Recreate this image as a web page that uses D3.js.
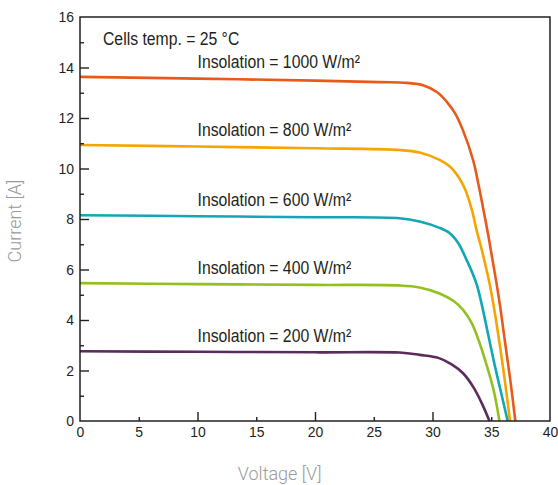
<!DOCTYPE html>
<html>
<head>
<meta charset="utf-8">
<script src="https://cdn.jsdelivr.net/npm/d3@7"></script>
<style>
  html, body { margin: 0; padding: 0; background: #fff; }
  svg { display: block; }
</style>
</head>
<body>
<svg id="chart" width="558" height="485"></svg>
<script>
// ---- data ----
const insolations = [1000, 800, 600, 400, 200];
const seriesColors = ["#e85a1b", "#f6a400", "#12a7b5", "#93c01f", "#5a2b5b"];

const v1000 = [0, 10, 20, 25.5, 27.8, 29.2, 30.4, 31.2, 31.9, 32.6, 33.45, 33.9, 34.3, 34.75, 35.1, 35.45, 35.8, 36.15, 36.6, 37.05];
const i1000 = [13.63, 13.56, 13.48, 13.42, 13.39, 13.3, 13.02, 12.65, 12.2, 11.5, 10.34, 9.4, 8.45, 7.35, 6.4, 5.45, 4.4, 3.2, 1.7, 0];

const v800 = [0, 10, 20, 27.2, 28.9, 30.6, 31.5, 32.2, 32.8, 33.35, 33.75, 34.2, 34.6, 34.9, 35.3, 35.75, 36.15, 36.6];
const i800 = [10.93, 10.87, 10.8, 10.73, 10.63, 10.34, 10.07, 9.67, 9.15, 8.36, 7.56, 6.77, 5.98, 5.35, 4.3, 2.94, 1.62, 0];

const v600 = [0, 10, 20, 27.2, 28.9, 30.6, 31.5, 32.2, 32.9, 33.45, 33.8, 34.2, 34.75, 35.3, 35.9, 36.4];
const i600 = [8.15, 8.11, 8.07, 8.03, 7.9, 7.65, 7.43, 7.04, 6.38, 5.8, 5.35, 4.6, 3.4, 2.2, 1.0, 0];

const v400 = [0, 10, 20, 27.2, 28.9, 30.6, 31.8, 32.6, 33.35, 34.0, 34.55, 35.2, 35.7];
const i400 = [5.46, 5.42, 5.39, 5.37, 5.29, 5.05, 4.75, 4.4, 3.87, 3.1, 2.3, 1.23, 0];

const v200 = [0, 10, 20, 27.2, 28.9, 30.5, 31.6, 32.6, 33.45, 34.2, 34.85];
const i200 = [2.76, 2.74, 2.72, 2.71, 2.62, 2.5, 2.25, 1.89, 1.36, 0.7, 0];

const voltages = [v1000, v800, v600, v400, v200];
const currents = [i1000, i800, i600, i400, i200];

const xTickLabels = [0, 5, 10, 15, 20, 25, 30, 35, 40];
const yTickLabels = [0, 2, 4, 6, 8, 10, 12, 14, 16];
const xMinorTicks = [5, 15, 25, 35];
const xMajorTicks = [10, 20, 30];
const yMinorTicks = [1, 3, 5, 7, 9, 11, 13, 15];
const yMajorTicks = [2, 4, 6, 8, 10, 12, 14];

const annotation = "Cells temp. = 25 °C";
const xTitle = "Voltage [V]";
const yTitle = "Current [A]";

// ---- layout ----
const margin = { left: 80, top: 17, right: 8, bottom: 64 };
const W = 558, H = 485;
const iw = W - margin.left - margin.right;   // 470
const ih = H - margin.top - margin.bottom;   // 404
const FONT = "'Liberation Sans', Arial, Helvetica, sans-serif";
const INK = "#231f20";

const svg = d3.select("#chart");
const g = svg.append("g").attr("transform", `translate(${margin.left},${margin.top})`);

const x = d3.scaleLinear().domain([0, 40]).range([0, iw]);
const y = d3.scaleLinear().domain([0, 16]).range([ih, 0]);

// condensed look of the original typeface
function condense(factor) {
  return sel => sel.each(function () {
    const w = this.getComputedTextLength();
    d3.select(this).attr("textLength", w * factor).attr("lengthAdjust", "spacingAndGlyphs");
  });
}

// curves
const line = d3.line().x(d => x(d[0])).y(d => y(d[1])).curve(d3.curveCatmullRom.alpha(0.5));
insolations.forEach((ins, k) => {
  const pts = voltages[k].map((v, j) => [v, currents[k][j]]);
  g.append("path").datum(pts)
    .attr("d", line)
    .attr("fill", "none")
    .attr("stroke", seriesColors[k])
    .attr("stroke-width", 2.6)
    .attr("stroke-linejoin", "round");
  g.append("text")
    .attr("x", x(10))
    .attr("y", y(currents[k][0]) - 9)
    .attr("font-family", FONT)
    .attr("font-size", 17.5)
    .attr("fill", INK)
    .text(`Insolation = ${ins} W/m²`)
    .call(condense(0.9));
});

// frame
g.append("rect").attr("x", 0).attr("y", 0).attr("width", iw).attr("height", ih)
  .attr("fill", "none").attr("stroke", INK).attr("stroke-width", 1.5);

// ticks (inward)
const yAxisMajor = d3.axisLeft(y).tickValues(yMajorTicks).tickSize(-9).tickFormat("");
const yAxisMinor = d3.axisLeft(y).tickValues(yMinorTicks).tickSize(-4).tickFormat("");
const xAxisMajor = d3.axisBottom(x).tickValues(xMajorTicks).tickSize(-9).tickFormat("");
const xAxisMinor = d3.axisBottom(x).tickValues(xMinorTicks).tickSize(-4).tickFormat("");
[ [yAxisMajor, null], [yAxisMinor, null], [xAxisMajor, ih], [xAxisMinor, ih] ].forEach(([ax, ty]) => {
  const a = g.append("g");
  if (ty !== null) a.attr("transform", `translate(0,${ty})`);
  a.call(ax);
  a.select(".domain").remove();
  a.selectAll("line").attr("stroke", INK).attr("stroke-width", 1.4);
});

// tick labels via axes
const yLab = g.append("g").call(d3.axisLeft(y).tickValues(yTickLabels).tickSize(0).tickPadding(6));
yLab.select(".domain").remove();
const xLab = g.append("g").attr("transform", `translate(0,${ih})`)
  .call(d3.axisBottom(x).tickValues(xTickLabels).tickSize(0).tickPadding(5));
xLab.select(".domain").remove();
[yLab, xLab].forEach(a => {
  a.attr("font-family", FONT).attr("font-size", 15.5);
  a.selectAll("text").attr("fill", INK).call(condense(0.9));
});

// annotation
svg.append("text")
  .attr("x", 103).attr("y", 45)
  .attr("font-family", FONT)
  .attr("font-size", 17.5).attr("fill", INK)
  .text(annotation)
  .call(condense(0.9));

// axis titles
svg.append("text")
  .attr("x", margin.left + x(17)).attr("y", 480)
  .attr("text-anchor", "middle")
  .attr("font-family", "Roboto, 'Liberation Sans', sans-serif")
  .attr("font-weight", 300)
  .attr("font-size", 18).attr("fill", "#9a9a9a")
  .text(xTitle);
svg.append("text")
  .attr("transform", `translate(21,${margin.top + ih / 2 + 2}) rotate(-90)`)
  .attr("text-anchor", "middle")
  .attr("font-family", "Roboto, 'Liberation Sans', sans-serif")
  .attr("font-weight", 300)
  .attr("font-size", 18).attr("fill", "#9a9a9a")
  .text(yTitle);
</script>
</body>
</html>
